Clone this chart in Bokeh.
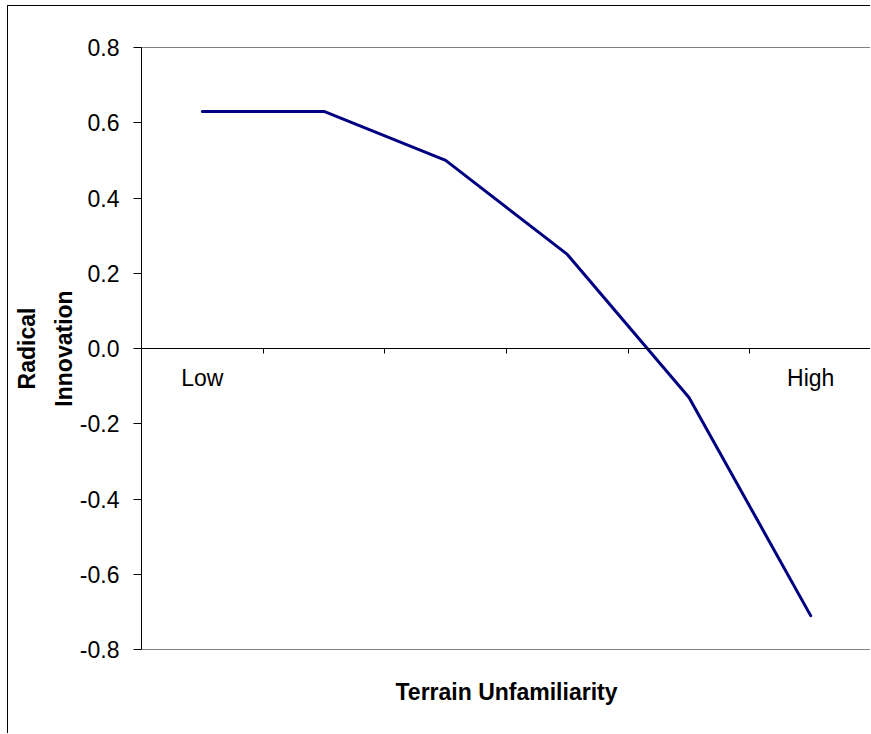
from bokeh.plotting import figure
from bokeh.models import (Range1d, FixedTicker, PrintfTickFormatter,
                          ColumnDataSource, LinearAxis)
from bokeh.core.properties import value
from bokeh.embed import file_html
from bokeh.resources import INLINE

# ---- data ----
categories = ["Low", "", "", "", "", "High"]
radical_innovation = [0.63, 0.63, 0.50, 0.25, -0.13, -0.71]
y_ticks = [-0.8, -0.6, -0.4, -0.2, 0.0, 0.2, 0.4, 0.6, 0.8]
x_title = "Terrain Unfamiliarity"
y_title = "Radical\nInnovation"

FONT = "Liberation Sans"
FS = "23px"

n = len(categories)
xs = [i + 0.5 for i in range(n)]

p = figure(width=863, height=728, output_backend="svg", toolbar_location=None,
           x_range=Range1d(0, n), y_range=Range1d(y_ticks[0], y_ticks[-1]),
           min_border_left=133, min_border_right=0, min_border_top=41,
           min_border_bottom=85)
p.styles = {"margin-left": "7px", "margin-top": "5px",
            "border-left": "1px solid black", "border-top": "1px solid black"}
p.background_fill_color = "white"
p.border_fill_color = "white"
p.outline_line_color = "#808080"
p.outline_line_width = 1
p.xgrid.visible = False
p.ygrid.visible = False

# y axis
ya = p.yaxis[0]
ya.ticker = FixedTicker(ticks=y_ticks)
ya.formatter = PrintfTickFormatter(format="%.1f")
ya.major_tick_out = 8
ya.major_tick_in = 0
ya.minor_tick_out = 0
ya.minor_tick_in = 0
ya.major_label_standoff = 14
ya.major_label_text_font = FONT
ya.major_label_text_font_size = FS
ya.major_label_text_color = "black"
ya.axis_line_color = "black"
ya.major_tick_line_color = "black"
ya.axis_label = y_title
ya.axis_label_text_font = FONT
ya.axis_label_text_font_size = FS
ya.axis_label_text_font_style = "bold"
ya.axis_label_text_color = "black"
ya.axis_label_text_line_height = 1.42
ya.axis_label_standoff = 0

# x axis at y=0
xa = p.xaxis[0]
xa.fixed_location = 0
xa.ticker = FixedTicker(ticks=list(range(n + 1)))
xa.major_label_overrides = {i: "" for i in range(n + 1)}
xa.major_label_text_font_size = "1px"
xa.major_tick_out = 5
xa.major_tick_in = 0
xa.minor_tick_out = 0
xa.minor_tick_in = 0
xa.axis_line_color = "black"
xa.major_tick_line_color = "black"

# bottom axis carrying only the title
ta = LinearAxis(axis_label=x_title, ticker=FixedTicker(ticks=[]),
                axis_line_color=None, major_tick_line_color=None,
                minor_tick_line_color=None, major_label_text_font_size="0px",
                axis_label_text_font=FONT, axis_label_text_font_size=FS,
                axis_label_text_font_style="bold",
                axis_label_text_color="black", axis_label_standoff=29)
p.add_layout(ta, "below")

# data line
src = ColumnDataSource(dict(x=xs, y=radical_innovation, cat=categories,
                            zero=[0.0] * n))
p.line("x", "y", source=src, line_color="#000080", line_width=3,
       line_cap="round", line_join="round")

# category labels below the axis
p.text(x="x", y="zero", text="cat", source=src, text_font=value(FONT),
       text_font_size=FS, text_color="black", text_align="center",
       text_baseline="middle", y_offset=29)

open("out.html", "w").write(file_html(p, INLINE))
